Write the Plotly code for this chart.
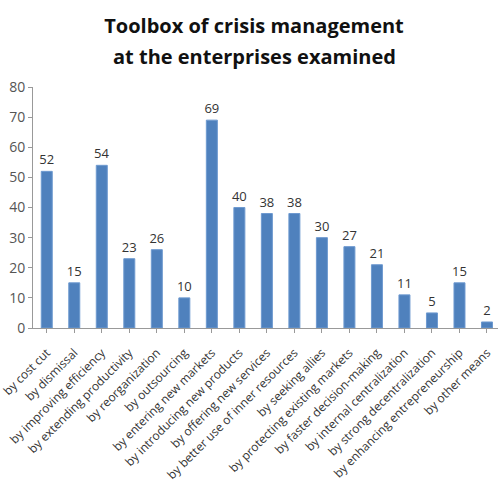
import plotly.graph_objects as go

categories = [
    "by cost cut", "by dismissal", "by improving efficiency", "by extending productivity",
    "by reorganization", "by outsourcing", "by entering new markets", "by introducing new products",
    "by offering new services", "by better use of inner resources", "by seeking allies",
    "by protecting existing markets", "by faster decision-making", "by internal centralization",
    "by strong decentralization", "by enhancing entrepreneurship", "by other means",
]
values = [52, 15, 54, 23, 26, 10, 69, 40, 38, 38, 30, 27, 21, 11, 5, 15, 2]
y_ticks = [0, 10, 20, 30, 40, 50, 60, 70, 80]

FONT = "Open Sans, Noto Sans, sans-serif"
W, H = 498, 481
LEFT, TOP, BOTTOM = 33, 87, 153
plot_h = H - TOP - BOTTOM
plot_w = W - LEFT

fig = go.Figure(go.Bar(
    x=list(range(len(categories))),
    y=values,
    text=[str(v) for v in values],
    textposition="outside",
    cliponaxis=False,
    textfont=dict(family=FONT, size=13, color="#333333"),
    marker=dict(color="#4F81BD", line=dict(color="#6E9AD0", width=1)),
    width=0.4,
))

fig.update_layout(
    width=W, height=H,
    margin=dict(l=LEFT, r=0, t=TOP, b=BOTTOM),
    paper_bgcolor="white", plot_bgcolor="white",
    showlegend=False,
    uniformtext=dict(minsize=13, mode="show"),
    title=dict(
        text="<b>Toolbox of crisis management</b>",
        x=254 / W, xanchor="center", y=1 - 26 / H, yanchor="middle",
        font=dict(family=FONT, size=20, color="#111111"),
    ),
    annotations=[dict(
        text="<b>at the enterprises examined</b>",
        xref="paper", yref="paper", x=(254 - LEFT) / plot_w, y=1 + (TOP - 56) / plot_h,
        xanchor="center", yanchor="middle", showarrow=False,
        font=dict(family=FONT, size=20, color="#111111"),
    )],
    bargap=0.6,
)
fig.update_xaxes(
    tickmode="array",
    tickvals=list(range(len(categories))),
    ticktext=categories,
    tickangle=-45,
    range=[-0.5, 16.4],
    automargin=False,
    ticklabeloverflow="allow",
    ticklabelstandoff=8,
    showline=True, linecolor="#999999", linewidth=1,
    ticks="outside", ticklen=4, tickcolor="#999999",
    tickfont=dict(family=FONT, size=12, color="#333333"),
    showgrid=False, zeroline=False,
)
fig.update_yaxes(
    range=[0, 80],
    tickvals=y_ticks,
    automargin=False,
    showline=True, linecolor="#999999", linewidth=1,
    ticks="outside", ticklen=4, tickcolor="#999999",
    tickfont=dict(family=FONT, size=14, color="#555555"),
    showgrid=False, zeroline=False,
)

fig.write_html("out.html")
